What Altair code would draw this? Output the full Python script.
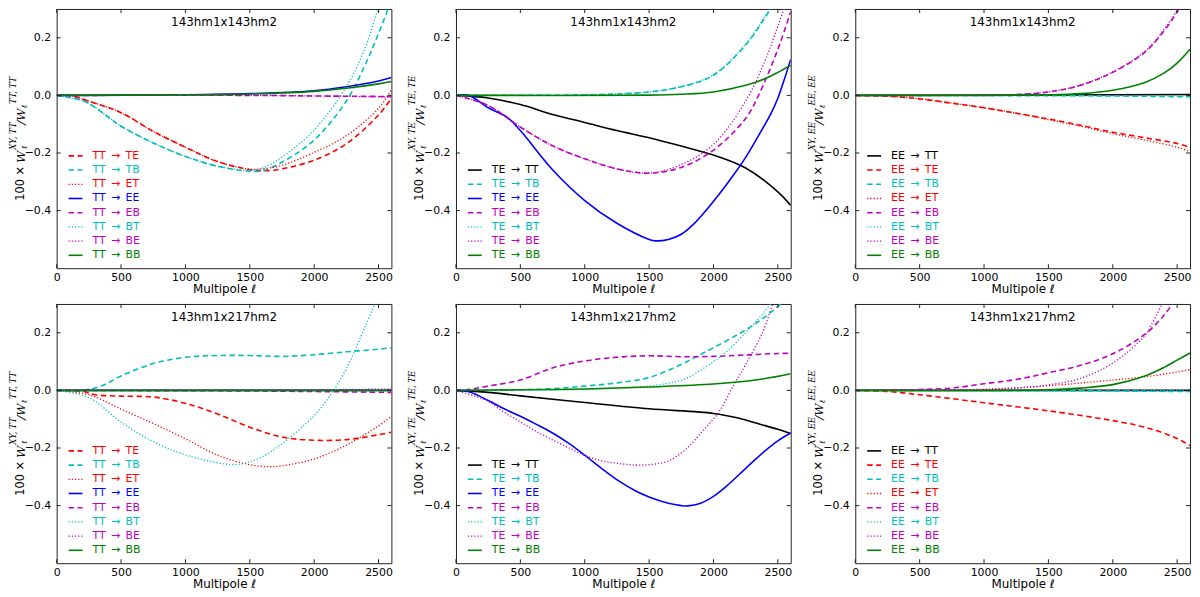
import altair as alt
import pandas as pd

# shared ranges of the six panels
ELL_MAX = 2600
W_MIN, W_MAX = -0.6, 0.3
X_TICKS = [0, 500, 1000, 1500, 2000, 2500]
Y_TICKS = [-0.4, -0.2, 0.0, 0.2]

# ---- 143hm1x143hm2, TT source ----
A_TE_L = [0, 100, 250, 500, 750, 1000, 1250, 1500, 1600, 1750, 2000, 2250, 2500, 2600]
A_TE_W = [0, 0, -0.02, -0.06, -0.125, -0.18, -0.23, -0.258, -0.262, -0.255, -0.225, -0.168, -0.068, -0.01]
A_TB_L = [0, 200, 300, 400, 500, 750, 1000, 1250, 1500, 1600, 1750, 2000, 2250, 2400, 2500, 2600]
A_TB_W = [0, -0.018, -0.042, -0.075, -0.107, -0.165, -0.212, -0.246, -0.263, -0.261, -0.232, -0.155, -0.02, 0.11, 0.215, 0.33]
A_ET_L = [0, 100, 250, 500, 750, 1000, 1250, 1500, 1600, 1750, 2000, 2250, 2500, 2600]
A_ET_W = [0, 0, -0.02, -0.06, -0.125, -0.18, -0.23, -0.256, -0.255, -0.243, -0.198, -0.14, -0.045, 0.02]
A_EE_L = [0, 1000, 1500, 2000, 2250, 2500, 2600]
A_EE_W = [0, 0.002, 0.006, 0.016, 0.03, 0.05, 0.062]
A_EB_L = [0, 1500, 2000, 2600]
A_EB_W = [0, 0, -0.002, -0.004]
A_BT_L = [0, 200, 300, 400, 500, 750, 1000, 1250, 1500, 1600, 1750, 2000, 2250, 2400, 2500]
A_BT_W = [0, -0.018, -0.042, -0.075, -0.107, -0.165, -0.212, -0.246, -0.26, -0.252, -0.214, -0.12, 0.03, 0.17, 0.31]
A_BE_L = [0, 1500, 2000, 2600]
A_BE_W = [0, 0, -0.002, -0.006]
A_BB_L = [0, 1000, 1500, 2000, 2250, 2500, 2600]
A_BB_W = [0, 0.002, 0.005, 0.014, 0.025, 0.04, 0.048]

# ---- 143hm1x143hm2, TE source ----
B_TT_L = [0, 250, 500, 750, 1000, 1250, 1500, 1750, 2000, 2250, 2500, 2600]
B_TT_W = [0, -0.009, -0.032, -0.066, -0.094, -0.122, -0.147, -0.176, -0.207, -0.252, -0.335, -0.382]
B_TB_L = [0, 1000, 1250, 1500, 1750, 2000, 2250, 2400, 2500]
B_TB_W = [0, 0.002, 0.005, 0.012, 0.03, 0.07, 0.175, 0.27, 0.34]
B_EE_L = [0, 100, 250, 400, 500, 750, 1000, 1250, 1500, 1550, 1650, 1750, 1850, 1950, 2050, 2150, 2250, 2350, 2450, 2500, 2550, 2600]
B_EE_W = [0, 0, -0.043, -0.077, -0.122, -0.258, -0.365, -0.444, -0.5, -0.505, -0.5, -0.482, -0.445, -0.395, -0.34, -0.28, -0.215, -0.14, -0.06, -0.01, 0.055, 0.125]
B_EB_L = [0, 250, 500, 750, 1000, 1250, 1500, 1750, 2000, 2250, 2350, 2500, 2600]
B_EB_W = [0, -0.035, -0.11, -0.175, -0.22, -0.255, -0.27, -0.25, -0.19, -0.08, 0.0, 0.16, 0.29]
B_BT_L = [0, 1000, 1250, 1500, 1750, 2000, 2250, 2400, 2500]
B_BT_W = [0, 0.002, 0.005, 0.012, 0.031, 0.072, 0.178, 0.274, 0.345]
B_BE_L = [0, 250, 500, 750, 1000, 1250, 1500, 1750, 2000, 2250, 2400, 2500, 2600]
B_BE_W = [0, -0.035, -0.11, -0.175, -0.22, -0.255, -0.27, -0.24, -0.17, -0.02, 0.12, 0.24, 0.37]
B_BB_L = [0, 1500, 1750, 2000, 2250, 2400, 2500, 2600]
B_BB_W = [0, 0.001, 0.004, 0.012, 0.035, 0.058, 0.08, 0.105]

# ---- 143hm1x143hm2, EE source ----
C_TT_L = [0, 1500, 2600]
C_TT_W = [0, 0.001, 0.003]
C_TE_L = [0, 250, 500, 750, 1000, 1250, 1500, 1750, 2000, 2250, 2500, 2600]
C_TE_W = [0, -0.003, -0.012, -0.027, -0.043, -0.062, -0.082, -0.104, -0.128, -0.147, -0.167, -0.181]
C_TB_L = [0, 1500, 2000, 2600]
C_TB_W = [0, -0.001, -0.002, -0.005]
C_ET_L = [0, 250, 500, 750, 1000, 1250, 1500, 1750, 2000, 2250, 2500, 2600]
C_ET_W = [0, -0.003, -0.012, -0.027, -0.043, -0.062, -0.084, -0.107, -0.133, -0.155, -0.18, -0.195]
C_EB_L = [0, 1000, 1250, 1500, 1750, 2000, 2250, 2400, 2500, 2600]
C_EB_W = [0, 0.001, 0.003, 0.012, 0.035, 0.08, 0.15, 0.225, 0.29, 0.37]
C_BT_L = [0, 2600]
C_BT_W = [0, -0.002]
C_BE_L = [0, 1000, 1250, 1500, 1750, 2000, 2250, 2400, 2500, 2600]
C_BE_W = [0, 0.001, 0.003, 0.012, 0.036, 0.082, 0.153, 0.23, 0.296, 0.38]
C_BB_L = [0, 1500, 1750, 2000, 2250, 2400, 2500, 2600]
C_BB_W = [0, 0.002, 0.006, 0.018, 0.045, 0.078, 0.112, 0.16]

# ---- 143hm1x217hm2, TT source ----
D_TE_L = [0, 200, 300, 500, 750, 1000, 1250, 1500, 1750, 2000, 2250, 2500, 2600]
D_TE_W = [0, -0.003, -0.015, -0.02, -0.023, -0.045, -0.082, -0.128, -0.162, -0.173, -0.171, -0.154, -0.145]
D_TB_L = [0, 200, 350, 500, 750, 1000, 1250, 1500, 1750, 2000, 2250, 2500, 2600]
D_TB_W = [0, 0, 0.016, 0.05, 0.093, 0.115, 0.121, 0.121, 0.118, 0.124, 0.134, 0.143, 0.148]
D_ET_L = [0, 250, 500, 750, 1000, 1250, 1500, 1650, 1750, 2000, 2250, 2500, 2600]
D_ET_W = [0, -0.015, -0.065, -0.115, -0.168, -0.225, -0.258, -0.265, -0.262, -0.238, -0.19, -0.123, -0.09]
D_EE_L = [0, 2600]
D_EE_W = [0, 0]
D_EB_L = [0, 1500, 2000, 2600]
D_EB_W = [0, -0.002, -0.004, -0.007]
D_BT_L = [0, 250, 500, 750, 1000, 1300, 1400, 1500, 1600, 1750, 2000, 2150, 2250, 2400, 2500]
D_BT_W = [0, -0.025, -0.11, -0.178, -0.224, -0.255, -0.257, -0.248, -0.23, -0.185, -0.088, 0.0, 0.075, 0.225, 0.33]
D_BE_L = [0, 1500, 2000, 2600]
D_BE_W = [0, 0.001, 0.002, 0.005]
D_BB_L = [0, 2600]
D_BB_W = [0, 0]

# ---- 143hm1x217hm2, TE source ----
E_TT_L = [0, 250, 500, 1000, 1500, 2000, 2200, 2350, 2500, 2600]
E_TT_W = [0, -0.007, -0.019, -0.042, -0.064, -0.08, -0.097, -0.116, -0.135, -0.15]
E_TB_L = [0, 500, 750, 1000, 1250, 1500, 1750, 1870, 2000, 2250, 2400, 2550]
E_TB_W = [0, 0.002, 0.006, 0.015, 0.026, 0.045, 0.09, 0.118, 0.148, 0.21, 0.255, 0.31]
E_EE_L = [0, 100, 250, 370, 500, 625, 750, 880, 1000, 1140, 1270, 1400, 1500, 1650, 1750, 1800, 1900, 2000, 2100, 2200, 2300, 2400, 2500, 2600]
E_EE_W = [0, -0.005, -0.035, -0.063, -0.09, -0.118, -0.148, -0.185, -0.225, -0.274, -0.316, -0.35, -0.37, -0.392, -0.4, -0.401, -0.392, -0.368, -0.333, -0.292, -0.25, -0.21, -0.175, -0.148]
E_EB_L = [0, 100, 250, 500, 750, 1000, 1250, 1500, 1750, 2000, 2250, 2500, 2600]
E_EB_W = [0, 0.003, 0.015, 0.036, 0.078, 0.102, 0.115, 0.12, 0.117, 0.118, 0.123, 0.128, 0.129]
E_BT_L = [0, 1000, 1250, 1500, 1650, 1780, 1900, 2000, 2060, 2250, 2400, 2460]
E_BT_W = [0, 0.003, 0.008, 0.015, 0.025, 0.04, 0.07, 0.1, 0.118, 0.2, 0.275, 0.31]
E_BE_L = [0, 240, 370, 500, 625, 750, 880, 1010, 1140, 1270, 1400, 1520, 1650, 1780, 1910, 2040, 2160, 2250, 2380, 2460]
E_BE_W = [0, -0.036, -0.075, -0.109, -0.143, -0.172, -0.2, -0.228, -0.245, -0.254, -0.259, -0.257, -0.245, -0.206, -0.144, -0.076, 0.02, 0.09, 0.2, 0.3]
E_BB_L = [0, 500, 1000, 1500, 2000, 2340, 2600]
E_BB_W = [0, 0.002, 0.005, 0.012, 0.022, 0.037, 0.058]

# ---- 143hm1x217hm2, EE source ----
F_TT_L = [0, 2600]
F_TT_W = [0, 0]
F_TE_L = [0, 250, 500, 1000, 1500, 2000, 2250, 2500, 2600]
F_TE_W = [0, -0.004, -0.015, -0.043, -0.071, -0.105, -0.128, -0.167, -0.192]
F_TB_L = [0, 1500, 2000, 2600]
F_TB_W = [0, -0.001, -0.002, -0.004]
F_ET_L = [0, 500, 1000, 1500, 2000, 2250, 2500, 2600]
F_ET_W = [0, 0.001, 0.004, 0.016, 0.036, 0.047, 0.064, 0.072]
F_EB_L = [0, 250, 500, 750, 1000, 1250, 1500, 1750, 2000, 2250, 2400, 2470]
F_EB_W = [0, 0.001, 0.003, 0.008, 0.023, 0.038, 0.061, 0.087, 0.127, 0.195, 0.262, 0.305]
F_BT_L = [0, 2600]
F_BT_W = [0, -0.001]
F_BE_L = [0, 500, 1000, 1250, 1500, 1750, 2000, 2250, 2300, 2390]
F_BE_W = [0, 0.001, 0.003, 0.008, 0.019, 0.042, 0.095, 0.19, 0.228, 0.305]
F_BB_L = [0, 1500, 1750, 2000, 2250, 2400, 2500, 2600]
F_BB_W = [0, 0.002, 0.008, 0.02, 0.05, 0.08, 0.105, 0.13]

# layout
PANEL_W, PANEL_H = 337, 261
TICK = 4
FONT = "DejaVu Sans"
MATH = "DejaVu Serif"
FRAME = "#222222"
DASHED = [5.5, 3.5]
DOTTED = [1.2, 2]
GAP = "\u2002"

# colour, dash, width for each destination spectrum
STYLES = {
    "TT": ("#000000", None, 1.6),
    "TE": ("#ff0000", DASHED, 1.6),
    "TB": ("#00bfbf", DASHED, 1.6),
    "ET": ("#ff0000", DOTTED, 1.3),
    "EE": ("#0000ff", None, 1.6),
    "EB": ("#bf00bf", DASHED, 1.6),
    "BT": ("#00bfbf", DOTTED, 1.3),
    "BE": ("#bf00bf", DOTTED, 1.3),
    "BB": ("#008000", None, 1.6),
}


def line_style(target):
    color, dash, width = STYLES[target]
    kw = {"color": color, "strokeWidth": width}
    if dash:
        kw["strokeDash"] = dash
    return kw


def one_row():
    return pd.DataFrame({"k": [0]})


def build_panel(title, source, series):
    x_enc = alt.X("ell:Q", scale=alt.Scale(domain=[0, ELL_MAX], nice=False, zero=False),
                  axis=alt.Axis(values=X_TICKS, format="d", title="Multipole ℓ", labelFlush=False))
    y_enc = alt.Y("w:Q", scale=alt.Scale(domain=[W_MIN, W_MAX], nice=False, zero=False),
                  axis=alt.Axis(values=Y_TICKS, format=".1f", title=None))

    layers = []
    for target, ells, vals in series:
        df = pd.DataFrame({"ell": ells, "w": vals})
        layers.append(alt.Chart(df).mark_line(clip=True, interpolate="catmull-rom",
                                              **line_style(target)).encode(x=x_enc, y=y_enc))

    # matplotlib style ticks pointing inwards on all four sides
    xt = pd.DataFrame({"ell": X_TICKS})
    yt = pd.DataFrame({"w": Y_TICKS})
    for a, b in ((PANEL_H, PANEL_H - TICK), (0, TICK)):
        layers.append(alt.Chart(xt).mark_rule(color=FRAME, strokeWidth=1)
                      .encode(x=x_enc, y=alt.value(a), y2=alt.value(b)))
    for a, b in ((0, TICK), (PANEL_W, PANEL_W - TICK)):
        layers.append(alt.Chart(yt).mark_rule(color=FRAME, strokeWidth=1)
                      .encode(y=y_enc, x=alt.value(a), x2=alt.value(b)))

    # panel title inside the frame
    layers.append(alt.Chart(one_row()).mark_text(text=title, font=FONT, fontSize=12, color="black",
                                                 baseline="middle")
                  .encode(x=alt.value(PANEL_W / 2), y=alt.value(13)))

    # legend, lower left
    n = len(series)
    for i, (target, _, _) in enumerate(series):
        yy = PANEL_H - 13 - 14.3 * (n - 1 - i)
        layers.append(alt.Chart(one_row()).mark_rule(**line_style(target))
                      .encode(x=alt.value(12), x2=alt.value(26), y=alt.value(yy)))
        layers.append(alt.Chart(one_row()).mark_text(text=f"{source}{GAP}→{GAP}{target}", font=FONT,
                                                     fontSize=11, align="left", baseline="middle",
                                                     color=STYLES[target][0])
                      .encode(x=alt.value(36), y=alt.value(yy)))

    # y title: 100 x W_l^{XY,src} / W_l^{src,src}
    pieces = [
        ("100 ×", 45, 0, 11.5, FONT, "normal"),
        ("W", 18.5, 0, 12, MATH, "italic"),
        ("ℓ", 9, 4, 8, MATH, "italic"),
        (f"XY, {source}", -2.5, -8, 8.5, MATH, "italic"),
        ("/W", -22, 0, 12, MATH, "italic"),
        ("ℓ", -32, 4, 8, MATH, "italic"),
        (f"{source}, {source}", -48.5, -8, 8.5, MATH, "italic"),
    ]
    for txt, dy, dx, size, font, style in pieces:
        layers.append(alt.Chart(one_row()).mark_text(text=txt, angle=270, font=font, fontSize=size,
                                                     fontStyle=style, color="black",
                                                     align="center", baseline="middle")
                      .encode(x=alt.value(-36 + dx), y=alt.value(PANEL_H / 2 + dy)))

    return alt.layer(*layers).properties(width=PANEL_W, height=PANEL_H)


p1 = build_panel("143hm1x143hm2", "TT", [
    ("TE", A_TE_L, A_TE_W), ("TB", A_TB_L, A_TB_W), ("ET", A_ET_L, A_ET_W), ("EE", A_EE_L, A_EE_W),
    ("EB", A_EB_L, A_EB_W), ("BT", A_BT_L, A_BT_W), ("BE", A_BE_L, A_BE_W), ("BB", A_BB_L, A_BB_W)])
p2 = build_panel("143hm1x143hm2", "TE", [
    ("TT", B_TT_L, B_TT_W), ("TB", B_TB_L, B_TB_W), ("EE", B_EE_L, B_EE_W), ("EB", B_EB_L, B_EB_W),
    ("BT", B_BT_L, B_BT_W), ("BE", B_BE_L, B_BE_W), ("BB", B_BB_L, B_BB_W)])
p3 = build_panel("143hm1x143hm2", "EE", [
    ("TT", C_TT_L, C_TT_W), ("TE", C_TE_L, C_TE_W), ("TB", C_TB_L, C_TB_W), ("ET", C_ET_L, C_ET_W),
    ("EB", C_EB_L, C_EB_W), ("BT", C_BT_L, C_BT_W), ("BE", C_BE_L, C_BE_W), ("BB", C_BB_L, C_BB_W)])
p4 = build_panel("143hm1x217hm2", "TT", [
    ("TE", D_TE_L, D_TE_W), ("TB", D_TB_L, D_TB_W), ("ET", D_ET_L, D_ET_W), ("EE", D_EE_L, D_EE_W),
    ("EB", D_EB_L, D_EB_W), ("BT", D_BT_L, D_BT_W), ("BE", D_BE_L, D_BE_W), ("BB", D_BB_L, D_BB_W)])
p5 = build_panel("143hm1x217hm2", "TE", [
    ("TT", E_TT_L, E_TT_W), ("TB", E_TB_L, E_TB_W), ("EE", E_EE_L, E_EE_W), ("EB", E_EB_L, E_EB_W),
    ("BT", E_BT_L, E_BT_W), ("BE", E_BE_L, E_BE_W), ("BB", E_BB_L, E_BB_W)])
p6 = build_panel("143hm1x217hm2", "EE", [
    ("TT", F_TT_L, F_TT_W), ("TE", F_TE_L, F_TE_W), ("TB", F_TB_L, F_TB_W), ("ET", F_ET_L, F_ET_W),
    ("EB", F_EB_L, F_EB_W), ("BT", F_BT_L, F_BT_W), ("BE", F_BE_L, F_BE_W), ("BB", F_BB_L, F_BB_W)])

top = alt.hconcat(p1, p2, p3, spacing=14)
bottom = alt.hconcat(p4, p5, p6, spacing=14)

chart = alt.vconcat(top, bottom, spacing=8).properties(
    padding={"left": 0, "top": -2, "right": 0, "bottom": 0}
).configure_view(
    stroke=FRAME, strokeWidth=1
).configure_axis(
    domain=False, ticks=False, tickSize=0, grid=False,
    labelFont=FONT, labelFontSize=11, labelColor="black",
    titleFont=FONT, titleFontSize=12, titleFontWeight="normal", titleColor="black",
).configure_axisX(
    labelPadding=3, titlePadding=1
).configure_axisY(
    labelPadding=6
)

chart.save("out.html", embed_options={"renderer": "svg", "actions": False})
